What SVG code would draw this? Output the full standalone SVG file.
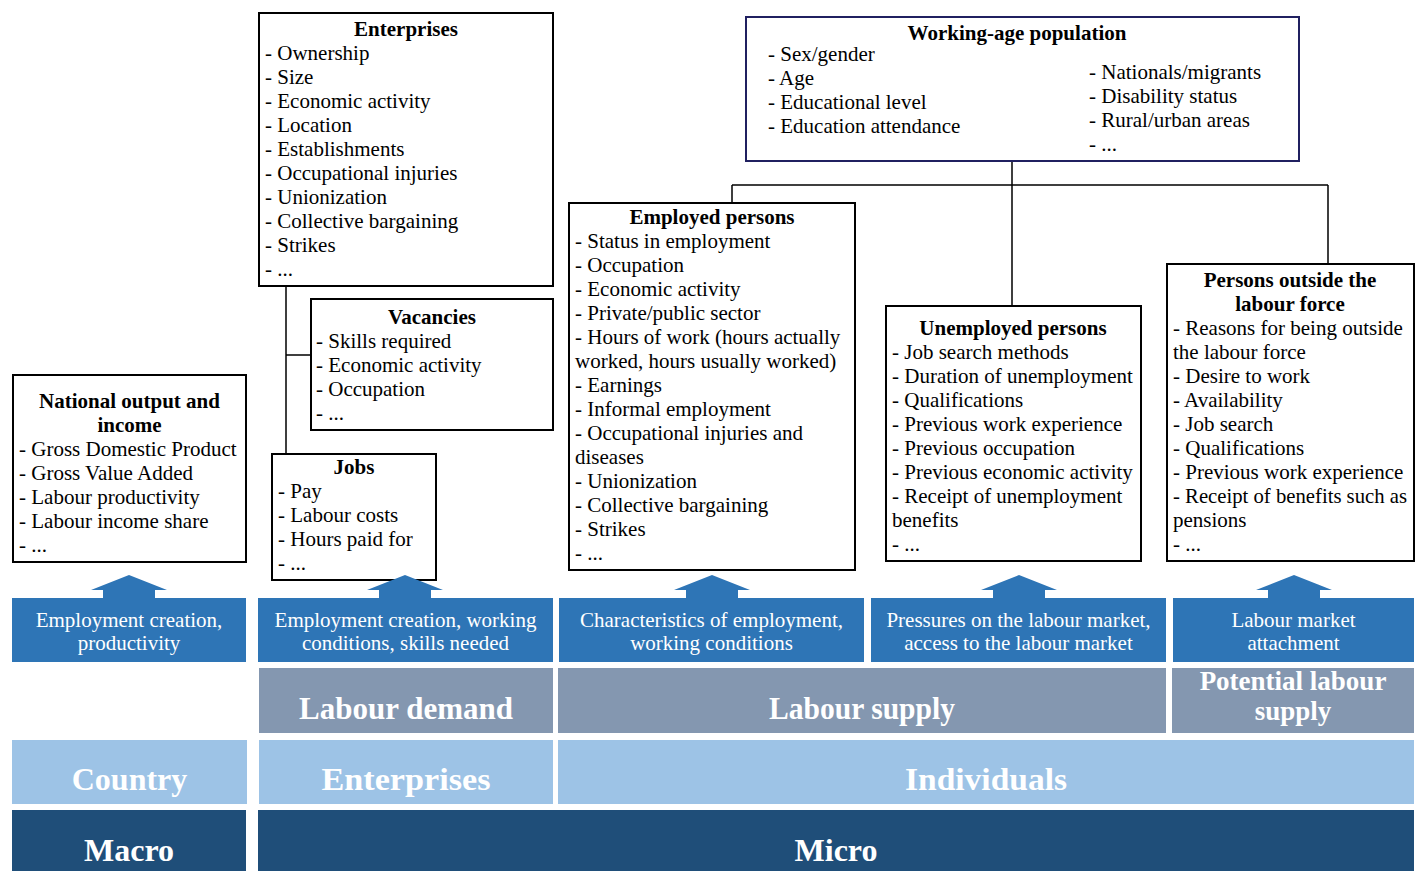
<svg xmlns="http://www.w3.org/2000/svg" xmlns:xlink="http://www.w3.org/1999/xlink" width="1418" height="871" viewBox="0 0 1418 871">
<defs>
<style>
.t{font-family:"Liberation Serif","Times New Roman",serif;font-size:21px;fill:#000}
.b{font-weight:bold;text-anchor:middle}
.w{fill:#fff;text-anchor:middle}
.L{font-family:"Liberation Serif","Times New Roman",serif;font-size:32px;font-weight:bold;fill:#fff;text-anchor:middle}
.box{fill:#fff;stroke:#000;stroke-width:2}
.c{stroke:#000;stroke-width:1.5;fill:none}
.blue{fill:#2E75B6}
.grey{fill:#8497B0}
.lb{fill:#9DC3E6}
.dk{fill:#1F4E79}
</style>
<path id="arr" d="M0,-23 L38,-8 L26,-8 L26,1 L-26,1 L-26,-8 L-38,-8 Z" fill="#2E75B6"/>
</defs>
<rect width="1418" height="871" fill="#fff"/>

<g id="connectors">
<path class="c" d="M286,286 V454 M286,355 H311"/>
<path class="c" d="M1012,161 V306 M732,185 H1328 M732,185 V203 M1328,185 V264"/>
</g>

<g id="enterprises">
<rect class="box" x="259" y="13" width="294" height="273"/>
<text class="t b" x="406" y="36">Enterprises</text>
<text class="t" x="265" y="60">- Ownership</text>
<text class="t" x="265" y="84">- Size</text>
<text class="t" x="265" y="108">- Economic activity</text>
<text class="t" x="265" y="132">- Location</text>
<text class="t" x="265" y="156">- Establishments</text>
<text class="t" x="265" y="180">- Occupational injuries</text>
<text class="t" x="265" y="204">- Unionization</text>
<text class="t" x="265" y="228">- Collective bargaining</text>
<text class="t" x="265" y="252">- Strikes</text>
<text class="t" x="265" y="276">- ...</text>
</g>

<g id="vacancies">
<rect class="box" x="311" y="299" width="242" height="131"/>
<text class="t b" x="432" y="324">Vacancies</text>
<text class="t" x="316" y="348">- Skills required</text>
<text class="t" x="316" y="372">- Economic activity</text>
<text class="t" x="316" y="396">- Occupation</text>
<text class="t" x="316" y="420">- ...</text>
</g>

<g id="jobs">
<rect class="box" x="272" y="454" width="164" height="126"/>
<text class="t b" x="354" y="474">Jobs</text>
<text class="t" x="278" y="498">- Pay</text>
<text class="t" x="278" y="522">- Labour costs</text>
<text class="t" x="278" y="546">- Hours paid for</text>
<text class="t" x="278" y="570">- ...</text>
</g>

<g id="national">
<rect class="box" x="13" y="375" width="233" height="187"/>
<text class="t b" x="129.5" y="408">National output and</text>
<text class="t b" x="129.5" y="432">income</text>
<text class="t" x="19" y="456">- Gross Domestic Product</text>
<text class="t" x="19" y="480">- Gross Value Added</text>
<text class="t" x="19" y="504">- Labour productivity</text>
<text class="t" x="19" y="528">- Labour income share</text>
<text class="t" x="19" y="552">- ...</text>
</g>

<g id="working-age">
<rect x="746" y="17" width="553" height="144" fill="#fff" stroke="#202060" stroke-width="2"/>
<text class="t b" x="1017" y="40">Working-age population</text>
<text class="t" x="768" y="61">- Sex/gender</text>
<text class="t" x="768" y="85">- Age</text>
<text class="t" x="768" y="109">- Educational level</text>
<text class="t" x="768" y="133">- Education attendance</text>
<text class="t" x="1089" y="79">- Nationals/migrants</text>
<text class="t" x="1089" y="103">- Disability status</text>
<text class="t" x="1089" y="127">- Rural/urban areas</text>
<text class="t" x="1089" y="151">- ...</text>
</g>

<g id="employed">
<rect class="box" x="569" y="203" width="286" height="367"/>
<text class="t b" x="712" y="224">Employed persons</text>
<text class="t" x="575" y="248">- Status in employment</text>
<text class="t" x="575" y="272">- Occupation</text>
<text class="t" x="575" y="296">- Economic activity</text>
<text class="t" x="575" y="320">- Private/public sector</text>
<text class="t" x="575" y="344">- Hours of work (hours actually</text>
<text class="t" x="575" y="368">worked, hours usually worked)</text>
<text class="t" x="575" y="392">- Earnings</text>
<text class="t" x="575" y="416">- Informal employment</text>
<text class="t" x="575" y="440">- Occupational injuries and</text>
<text class="t" x="575" y="464">diseases</text>
<text class="t" x="575" y="488">- Unionization</text>
<text class="t" x="575" y="512">- Collective bargaining</text>
<text class="t" x="575" y="536">- Strikes</text>
<text class="t" x="575" y="560">- ...</text>
</g>

<g id="unemployed">
<rect class="box" x="886" y="306" width="255" height="255"/>
<text class="t b" x="1013" y="335">Unemployed persons</text>
<text class="t" x="892" y="359">- Job search methods</text>
<text class="t" x="892" y="383">- Duration of unemployment</text>
<text class="t" x="892" y="407">- Qualifications</text>
<text class="t" x="892" y="431">- Previous work experience</text>
<text class="t" x="892" y="455">- Previous occupation</text>
<text class="t" x="892" y="479">- Previous economic activity</text>
<text class="t" x="892" y="503">- Receipt of unemployment</text>
<text class="t" x="892" y="527">benefits</text>
<text class="t" x="892" y="551">- ...</text>
</g>

<g id="outside">
<rect class="box" x="1167" y="264" width="247" height="297"/>
<text class="t b" x="1290" y="287">Persons outside the</text>
<text class="t b" x="1290" y="311">labour force</text>
<text class="t" x="1173" y="335">- Reasons for being outside</text>
<text class="t" x="1173" y="359">the labour force</text>
<text class="t" x="1173" y="383">- Desire to work</text>
<text class="t" x="1173" y="407">- Availability</text>
<text class="t" x="1173" y="431">- Job search</text>
<text class="t" x="1173" y="455">- Qualifications</text>
<text class="t" x="1173" y="479">- Previous work experience</text>
<text class="t" x="1173" y="503" textLength="234" lengthAdjust="spacingAndGlyphs">- Receipt of benefits such as</text>
<text class="t" x="1173" y="527">pensions</text>
<text class="t" x="1173" y="551">- ...</text>
</g>

<g id="purpose1">
<use xlink:href="#arr" href="#arr" x="129" y="598"/>
<rect class="blue" x="12" y="598" width="234" height="64"/>
<text class="t w" x="129" y="627">Employment creation,</text>
<text class="t w" x="129" y="650">productivity</text>
</g>
<g id="purpose2">
<use xlink:href="#arr" href="#arr" x="405" y="598"/>
<rect class="blue" x="258" y="598" width="295" height="64"/>
<text class="t w" x="405.5" y="627">Employment creation, working</text>
<text class="t w" x="405.5" y="650">conditions, skills needed</text>
</g>
<g id="purpose3">
<use xlink:href="#arr" href="#arr" x="712" y="598"/>
<rect class="blue" x="559" y="598" width="305" height="64"/>
<text class="t w" x="711.5" y="627">Characteristics of employment,</text>
<text class="t w" x="711.5" y="650">working conditions</text>
</g>
<g id="purpose4">
<use xlink:href="#arr" href="#arr" x="1019" y="598"/>
<rect class="blue" x="871" y="598" width="295" height="64"/>
<text class="t w" x="1018.5" y="627">Pressures on the labour market,</text>
<text class="t w" x="1018.5" y="650">access to the labour market</text>
</g>
<g id="purpose5">
<use xlink:href="#arr" href="#arr" x="1294" y="598"/>
<rect class="blue" x="1173" y="598" width="241" height="64"/>
<text class="t w" x="1293.5" y="627">Labour market</text>
<text class="t w" x="1293.5" y="650">attachment</text>
</g>

<g id="labour-demand">
<rect class="grey" x="259" y="668" width="294" height="65"/>
<text class="L" x="406" y="719" style="font-size:31px">Labour demand</text>
</g>
<g id="labour-supply">
<rect class="grey" x="558" y="668" width="608" height="65"/>
<text class="L" x="862" y="719" style="font-size:31px" textLength="186" lengthAdjust="spacingAndGlyphs">Labour supply</text>
</g>
<g id="potential-labour-supply">
<rect class="grey" x="1172" y="668" width="242" height="65"/>
<text class="L" x="1293" y="690" style="font-size:27px">Potential labour</text>
<text class="L" x="1293" y="720" style="font-size:27px">supply</text>
</g>

<g id="country">
<rect class="lb" x="12" y="740" width="235" height="64"/>
<text class="L" x="129.5" y="790">Country</text>
</g>
<g id="enterprises-level">
<rect class="lb" x="259" y="740" width="294" height="64"/>
<text class="L" x="406" y="790" textLength="169" lengthAdjust="spacingAndGlyphs">Enterprises</text>
</g>
<g id="individuals">
<rect class="lb" x="558" y="740" width="856" height="64"/>
<text class="L" x="986" y="790" textLength="162" lengthAdjust="spacingAndGlyphs">Individuals</text>
</g>

<g id="macro">
<rect class="dk" x="12" y="810" width="234" height="61"/>
<text class="L" x="129" y="861">Macro</text>
</g>
<g id="micro">
<rect class="dk" x="258" y="810" width="1156" height="61"/>
<text class="L" x="836" y="861">Micro</text>
</g>
</svg>
